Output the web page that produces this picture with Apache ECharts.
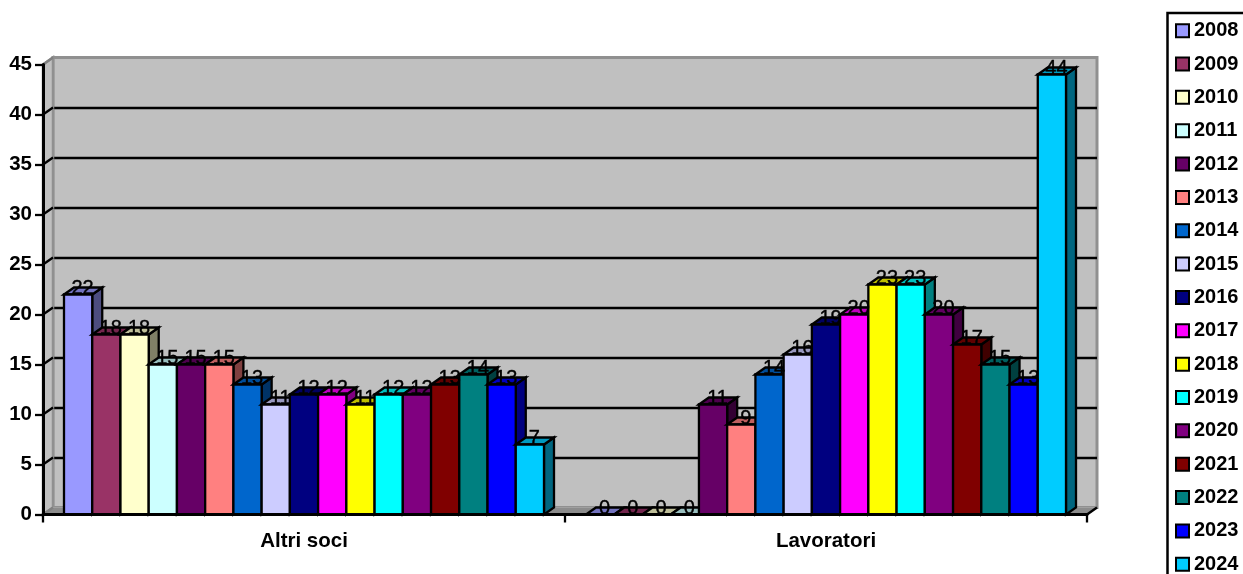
<!DOCTYPE html>
<html>
<head>
<meta charset="utf-8">
<style>html,body{margin:0;padding:0;background:#fff;overflow:hidden}#c{width:1243px;height:574px}</style>
<script src="https://cdn.jsdelivr.net/npm/echarts@6/dist/echarts.min.js"></script>
</head>
<body>
<div id="c"></div>
<script>
const categories = ['Altri soci', 'Lavoratori'];
const years = ['2008','2009','2010','2011','2012','2013','2014','2015','2016','2017','2018','2019','2020','2021','2022','2023','2024'];
const altriSoci = [22,18,18,15,15,15,13,11,12,12,11,12,12,13,14,13,7];
const lavoratori = [0,0,0,0,11,9,14,16,19,20,23,23,20,17,15,13,44];
const colors = ['#9999FF','#993366','#FFFFCC','#CCFFFF','#660066','#FF8080','#0066CC','#CCCCFF','#000080','#FF00FF','#FFFF00','#00FFFF','#800080','#800000','#008080','#0000FF','#00CCFF'];
const yTicks = [0,5,10,15,20,25,30,35,40,45];

const DX = 10, DY = -7;
const FONT = '"Liberation Sans", Arial, sans-serif';
const BAR_FRAC = 480 / 522 / 17;

function shade(hex, f) {
  const n = parseInt(hex.slice(1), 16);
  const r = Math.round((n >> 16 & 255) * f), g = Math.round((n >> 8 & 255) * f), b = Math.round((n & 255) * f);
  return `rgb(${r},${g},${b})`;
}
function poly(points, fill, stroke, lw) {
  return { type: 'polygon', shape: { points }, style: { fill, stroke: stroke || '#000', lineWidth: lw === undefined ? 2.3 : lw } };
}

const barSeries = years.map((year, i) => ({
  name: year,
  type: 'custom',
  xAxisIndex: 0,
  yAxisIndex: 0,
  itemStyle: { color: colors[i] },
  data: [[0, altriSoci[i]], [1, lavoratori[i]]],
  encode: { x: 0, y: 1 },
  clip: false,
  renderItem(params, api) {
    const v = api.value(1);
    const top = api.coord([api.value(0), v]);
    const base = api.coord([api.value(0), 0]);
    const w = api.size([1, 0])[0] * BAR_FRAC;
    const x0 = top[0] + (i - 8.5) * w, x1 = x0 + w, yt = top[1], yb = base[1];
    const c = colors[i];
    const children = [];
    if (v > 0) {
      children.push(poly([[x1, yt], [x1 + DX, yt + DY], [x1 + DX, yb + DY], [x1, yb]], shade(c, 0.5)));
    }
    children.push(poly([[x0, yt], [x0 + DX, yt + DY], [x1 + DX, yt + DY], [x1, yt]], shade(c, 0.75)));
    if (v > 0) {
      children.push(poly([[x0, yt], [x1, yt], [x1, yb], [x0, yb]], c));
    }
    children.push({
      type: 'text', z2: 50,
      style: { text: String(v), x: (x0 + x1) / 2 + 4.5, y: yt - 6.5, align: 'center', verticalAlign: 'middle', font: '20px ' + FONT, fill: '#000', stroke: '#000', lineWidth: 0.4 }
    });
    return { type: 'group', children };
  }
}));

const frameSeries = {
  type: 'custom',
  xAxisIndex: 0,
  yAxisIndex: 0,
  data: [[0, 0]],
  silent: true,
  legendHoverLink: false,
  clip: false,
  z: 1,
  renderItem(params, api) {
    const band = api.size([1, 0])[0];
    const o = api.coord([0, 0]);
    const t = api.coord([0, 45]);
    const xl = o[0] - band / 2, xr = o[0] + 1.5 * band, yb = o[1], yt = t[1];
    const children = [
      poly([[xl, yt], [xl + DX, yt + DY], [xl + DX, yb + DY], [xl, yb]], '#c0c0c0', '#909090', 2.5),
      poly([[xl, yb], [xl + DX, yb + DY], [xr + DX, yb + DY], [xr, yb]], '#8c8c8c', '#a0a0a0', 1)
    ];
    yTicks.forEach(v => {
      const y = api.coord([0, v])[1];
      children.push({ type: 'line', shape: { x1: xl, y1: y, x2: xl + DX, y2: y + DY }, style: { stroke: (v === 45 || v === 0) ? '#808080' : '#000', lineWidth: 2.3 } });
    });
    children.push({ type: 'line', shape: { x1: xr, y1: yb, x2: xr + DX, y2: yb + DY }, style: { stroke: '#000', lineWidth: 2.5 } });
    return { type: 'group', children };
  }
};

const chart = echarts.init(document.getElementById('c'), null, { renderer: 'canvas' });
chart.setOption({
  animation: false,
  backgroundColor: '#fff',
  grid: [
    { left: 43, right: 156, top: 64.5, bottom: 59.5, containLabel: false, z: 3 },
    { left: 43 + DX, right: 156 - DX, top: 64.5 + DY, bottom: 59.5 - DY, show: true, backgroundColor: '#c0c0c0', borderColor: '#909090', borderWidth: 3, z: 0 }
  ],
  xAxis: [
    { type: 'category', gridIndex: 0, data: categories,
      axisLine: { lineStyle: { color: '#000', width: 3 } },
      axisTick: { show: true, length: 8, lineStyle: { color: '#000', width: 2.3 } },
      axisLabel: { color: '#000', fontFamily: FONT, fontWeight: 'bold', fontSize: 20.5, margin: 16 },
      z: 5 },
    { type: 'category', gridIndex: 1, data: categories, show: false }
  ],
  yAxis: [
    { type: 'value', gridIndex: 0, min: 0, max: 45, interval: 5,
      axisLine: { show: true, lineStyle: { color: '#000', width: 3 } },
      axisTick: { show: true, length: 8, lineStyle: { color: '#000', width: 2.3 } },
      axisLabel: { color: '#000', fontFamily: FONT, fontWeight: 'bold', fontSize: 20.5, margin: 11 },
      splitLine: { show: false }, z: 5 },
    { type: 'value', gridIndex: 1, min: 0, max: 45, interval: 5,
      axisLine: { show: false }, axisTick: { show: false }, axisLabel: { show: false },
      splitLine: { show: true, showMinLine: false, showMaxLine: false, lineStyle: { color: '#000', width: 2.3 } }, z: 0 }
  ],
  legend: {
    orient: 'vertical', left: 1175, top: 20.5, height: 620, padding: 0, itemWidth: 13, itemHeight: 13, itemGap: 13.05,
    data: years, selectedMode: false, icon: 'rect',
    itemStyle: { borderColor: '#000', borderWidth: 2 },
    textStyle: { color: '#000', fontFamily: FONT, fontWeight: 'bold', fontSize: 20, lineHeight: 20.3 }
  },
  graphic: [{ type: 'polyline', shape: { points: [[1243, 13], [1167.5, 13], [1167.5, 574]] }, style: { stroke: '#000', lineWidth: 2.5, fill: 'none' } }],
  series: [frameSeries, ...barSeries]
});
</script>
</body>
</html>
